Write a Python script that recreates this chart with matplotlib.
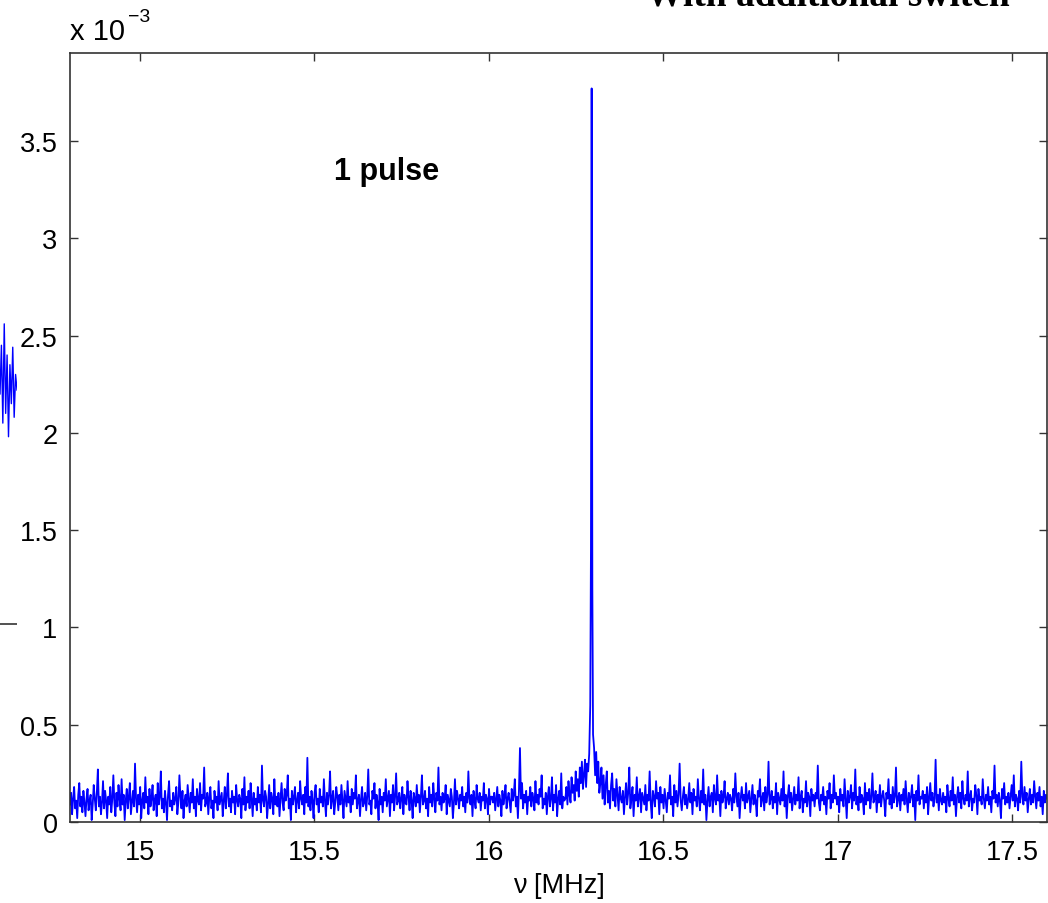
import numpy as np
import matplotlib.pyplot as plt

# spectrum amplitude in units of 1e-3
noise_left = [
    .09, .15, .04, .12, .18, .07, .11, .02, .14, .20, .08, .13, .05, .16, .10, .03, .12, .17, .06, .11,
    .14, .01, .09, .19, .12, .06, .15, .27, .08, .13, .04, .10, .21, .07, .16, .11, .02, .13, .09, .18,
    .05, .12, .24, .10, .03, .15, .08, .19, .12, .06, .22, .09, .14, .01, .11, .17, .07, .13, .20, .04,
    .10, .16, .08, .30, .12, .05, .14, .09, .18, .02, .11, .15, .07, .23, .10, .13, .04, .17, .08, .12,
    .19, .06, .11, .14, .03, .20, .09, .13, .26, .07, .12, .05, .16, .10, .01, .14, .21, .08, .11, .06,
    .15, .09, .12, .18, .04, .10, .24, .13, .07, .16, .02, .11, .14, .08, .19, .12, .05, .15, .10, .22,
    .07, .13, .03, .17, .11, .09, .20, .06, .14, .12, .28, .08, .10, .15, .04, .13, .18, .07, .11, .02,
    .16, .10, .13, .06, .21, .09, .12, .15, .03, .11, .18, .07, .14, .25, .08, .12, .05, .16, .10, .13,
    .04, .19, .11, .08, .14, .12, .02, .17, .09, .23, .06, .13, .10, .16, .07, .20, .12, .03, .15, .09,
    .12, .06, .18, .10, .14, .05, .29, .11, .08, .16, .13, .02, .10, .19, .07, .15, .12, .04, .22, .09,
    .13, .08, .15, .03, .12, .20, .10, .06, .17, .11, .14, .24, .07, .12, .01, .16, .09, .13, .18, .05,
    .11, .15, .07, .21, .12, .09, .14, .04, .18, .10, .33, .08, .13, .06, .16, .11, .02, .15, .19, .09,
    .12, .05, .17, .10, .13, .08, .22, .11, .03, .15, .09, .14, .26, .07, .12, .16, .04, .10, .18, .13,
    .06, .14, .09, .19, .11, .02, .16, .12, .08, .21, .10, .13, .05, .17, .09, .15, .12, .24, .07, .11,
    .14, .03, .12, .18, .08, .10, .15, .06, .13, .27, .09, .11, .04, .16, .12, .20, .07, .14, .10, .01,
    .17, .09, .13, .05, .15, .11, .22, .08, .12, .16, .03, .14, .10, .19, .06, .13, .25, .09, .11, .15,
    .07, .12, .18, .04, .14, .10, .09, .21, .13, .06, .16, .11, .02, .15, .12, .08, .19, .10, .14, .05,
    .13, .24, .09, .11, .16, .07, .12, .03, .18, .10, .14, .08, .20, .12, .05, .15, .11, .28, .09, .13,
    .06, .15, .10, .12, .19, .04, .14, .11, .08, .17, .13, .02, .10, .22, .09, .16, .12, .07, .14, .11,
    .18, .08, .13, .05, .15, .10, .26, .12, .09, .14, .03, .16, .11, .07, .19, .12, .10, .15, .06, .13,
    .11, .20, .07, .14, .12, .04, .17, .09, .13, .13, .10, .15, .06, .12, .18, .08, .14, .11, .03, .16,
    .09, .13, .19, .07, .12, .15, .10, .05, .17, .11, .14, .22, .08, .13, .02, .16, .38, .12, .20, .07,
    .14, .10, .16, .04, .13, .11, .18, .08, .15, .12, .06, .21, .10, .14, .09, .17, .13, .24, .07, .12,
    .09, .15, .04, .13, .18, .08, .12, .23, .06, .14, .10, .19, .03, .12, .16, .09, .25, .07, .13, .11,
    .12, .18, .09, .21, .14, .10, .23, .15, .19, .11, .26, .16, .22, .13, .28, .20, .31, .17,
]

peak_freq = [16.273, 16.276, 16.279, 16.282, 16.285, 16.288, 16.291, 16.293, 16.295,
             16.297, 16.299, 16.302, 16.305, 16.308, 16.311, 16.314, 16.317]
peak_vals = [.24, .32, .18, .30, .26, .35, .60, 1.40, 3.77,
             1.20, .45, .38, .24, .36, .20, .31, .15]

noise_right = [
    .20, .28, .12, .24, .09, .19, .26, .10, .16, .07, .19, .25, .11, .17, .08, .22, .14, .06, .18, .12,
    .10, .16, .04, .13, .20, .09, .15, .28, .07, .12, .18, .03, .14, .11, .23, .08, .13, .17, .05, .15,
    .12, .09, .19, .06, .14, .11, .26, .10, .02, .16, .13, .08, .21, .12, .15, .04, .18, .10, .14, .07,
    .17, .11, .05, .15, .12, .24, .09, .13, .03, .19, .10, .16, .08, .14, .30, .11, .06, .13, .18, .09,
    .14, .07, .12, .20, .10, .15, .04, .17, .11, .13, .08, .22, .12, .06, .16, .10, .27, .09, .14, .01,
    .11, .18, .08, .13, .15, .05, .19, .12, .09, .24, .11, .14, .03, .16, .10, .13, .21, .07, .12, .15,
    .09, .14, .12, .06, .17, .10, .25, .13, .08, .15, .02, .12, .18, .11, .14, .07, .20, .10, .13, .16,
    .05, .12, .19, .09, .14, .11, .03, .16, .13, .22, .08, .12, .15, .06, .18, .10, .14, .31, .09, .12,
    .16, .07, .13, .10, .20, .04, .15, .12, .09, .17, .11, .26, .08, .14, .02, .13, .19, .10, .15, .06,
    .12, .18, .09, .14, .11, .23, .07, .13, .16, .05, .12, .10, .21, .08, .15, .13, .03, .17, .11, .14,
    .08, .15, .12, .29, .10, .06, .14, .11, .18, .09, .13, .04, .16, .12, .20, .07, .14, .10, .24, .12,
    .15, .09, .13, .05, .17, .11, .14, .08, .22, .12, .02, .16, .10, .13, .19, .07, .15, .11, .27, .09,
    .13, .06, .18, .10, .14, .12, .04, .20, .09, .15, .11, .17, .07, .13, .25, .10, .12, .16, .05, .14,
    .10, .19, .08, .13, .16, .11, .03, .15, .12, .22, .09, .14, .07, .18, .10, .13, .28, .08, .12, .15,
    .06, .14, .11, .17, .09, .21, .12, .05, .15, .10, .13, .19, .08, .14, .01, .16, .11, .24, .09, .13,
    .12, .16, .07, .14, .10, .18, .04, .13, .20, .11, .15, .08, .12, .32, .10, .14, .06, .17, .11, .09,
    .15, .10, .13, .05, .19, .12, .08, .16, .11, .23, .09, .14, .03, .13, .18, .10, .15, .07, .21, .12,
    .09, .14, .11, .26, .08, .13, .16, .06, .12, .10, .19, .14, .04, .17, .11, .13, .09, .22, .12, .07,
    .14, .11, .18, .09, .13, .05, .16, .12, .29, .10, .14, .08, .15, .11, .02, .17, .12, .20, .09, .13,
    .10, .15, .07, .13, .19, .11, .24, .08, .14, .12, .06, .16, .10, .31, .13, .09, .18, .11, .15, .05,
    .12, .17, .09, .14, .10, .21, .13, .07, .15, .11, .18, .08, .13, .04, .16, .10, .14, .12,
]

# the neighbouring panel that pokes in at the left edge
side_vals = [2.20, 2.45, 2.05, 2.56, 2.10, 2.40, 1.98, 2.35, 2.15, 2.44, 2.08, 2.30, 2.22]

xticks = [15, 15.5, 16, 16.5, 17, 17.5]
yticks = [0, 0.5, 1, 1.5, 2, 2.5, 3, 3.5]

freq = np.concatenate([
    np.linspace(14.80, 16.27, len(noise_left)),
    peak_freq,
    np.linspace(16.32, 17.60, len(noise_right)),
])
amp = np.concatenate([noise_left, peak_vals, noise_right])

plt.rcParams['font.family'] = ['Liberation Sans', 'DejaVu Sans']

fig = plt.figure(figsize=(10.48, 9.04), dpi=100)
ax = fig.add_axes([70 / 1048, 81 / 904, 977 / 1048, 769 / 904])
ax.plot(freq, amp, color='#0000ff', linewidth=1.3)

ax.set_xlim(14.8, 17.6)
ax.set_ylim(0, 3.952)
ax.set_xticks(xticks)
ax.set_xticklabels(['15', '15.5', '16', '16.5', '17', '17.5'])
ax.set_yticks(yticks)
ax.set_yticklabels(['0', '0.5', '1', '1.5', '2', '2.5', '3', '3.5'])
ax.tick_params(direction='in', length=6, width=1, top=True, right=True,
               labelsize=19.5, color='#333333')
ax.tick_params(axis='x', pad=12)
ax.tick_params(axis='y', pad=9)
for s in ax.spines.values():
    s.set_linewidth(1.2)
    s.set_color('#333333')

ax.set_xlabel('ν [MHz]', fontsize=19.5, labelpad=5)
ax.text(15.558, 3.345, '1 pulse', fontsize=22, fontweight='bold', va='center')

fig.text(70 / 1048, 1 - 32 / 904, 'x 10', fontsize=21, va='center', ha='left')
fig.text(128 / 1048, 1 - 17 / 904, '\u22123', fontsize=14, va='center', ha='left')

fig.text(828 / 1048, 1 - 6 / 904, 'With additional switch', fontsize=27,
         fontweight='bold', family=['Liberation Serif'], ha='center', va='baseline')

# left sliver of the previous panel
side = fig.add_axes([0, 81 / 904, 17 / 1048, 769 / 904])
side.plot(np.linspace(0, 1, len(side_vals)), side_vals, color='#0000ff', linewidth=1.0)
side.plot([0, 1], [1.02, 1.02], color='#333333', linewidth=1.2)
side.set_xlim(0, 1)
side.set_ylim(0, 3.952)
side.axis('off')

fig.savefig('out.png', dpi=100)
